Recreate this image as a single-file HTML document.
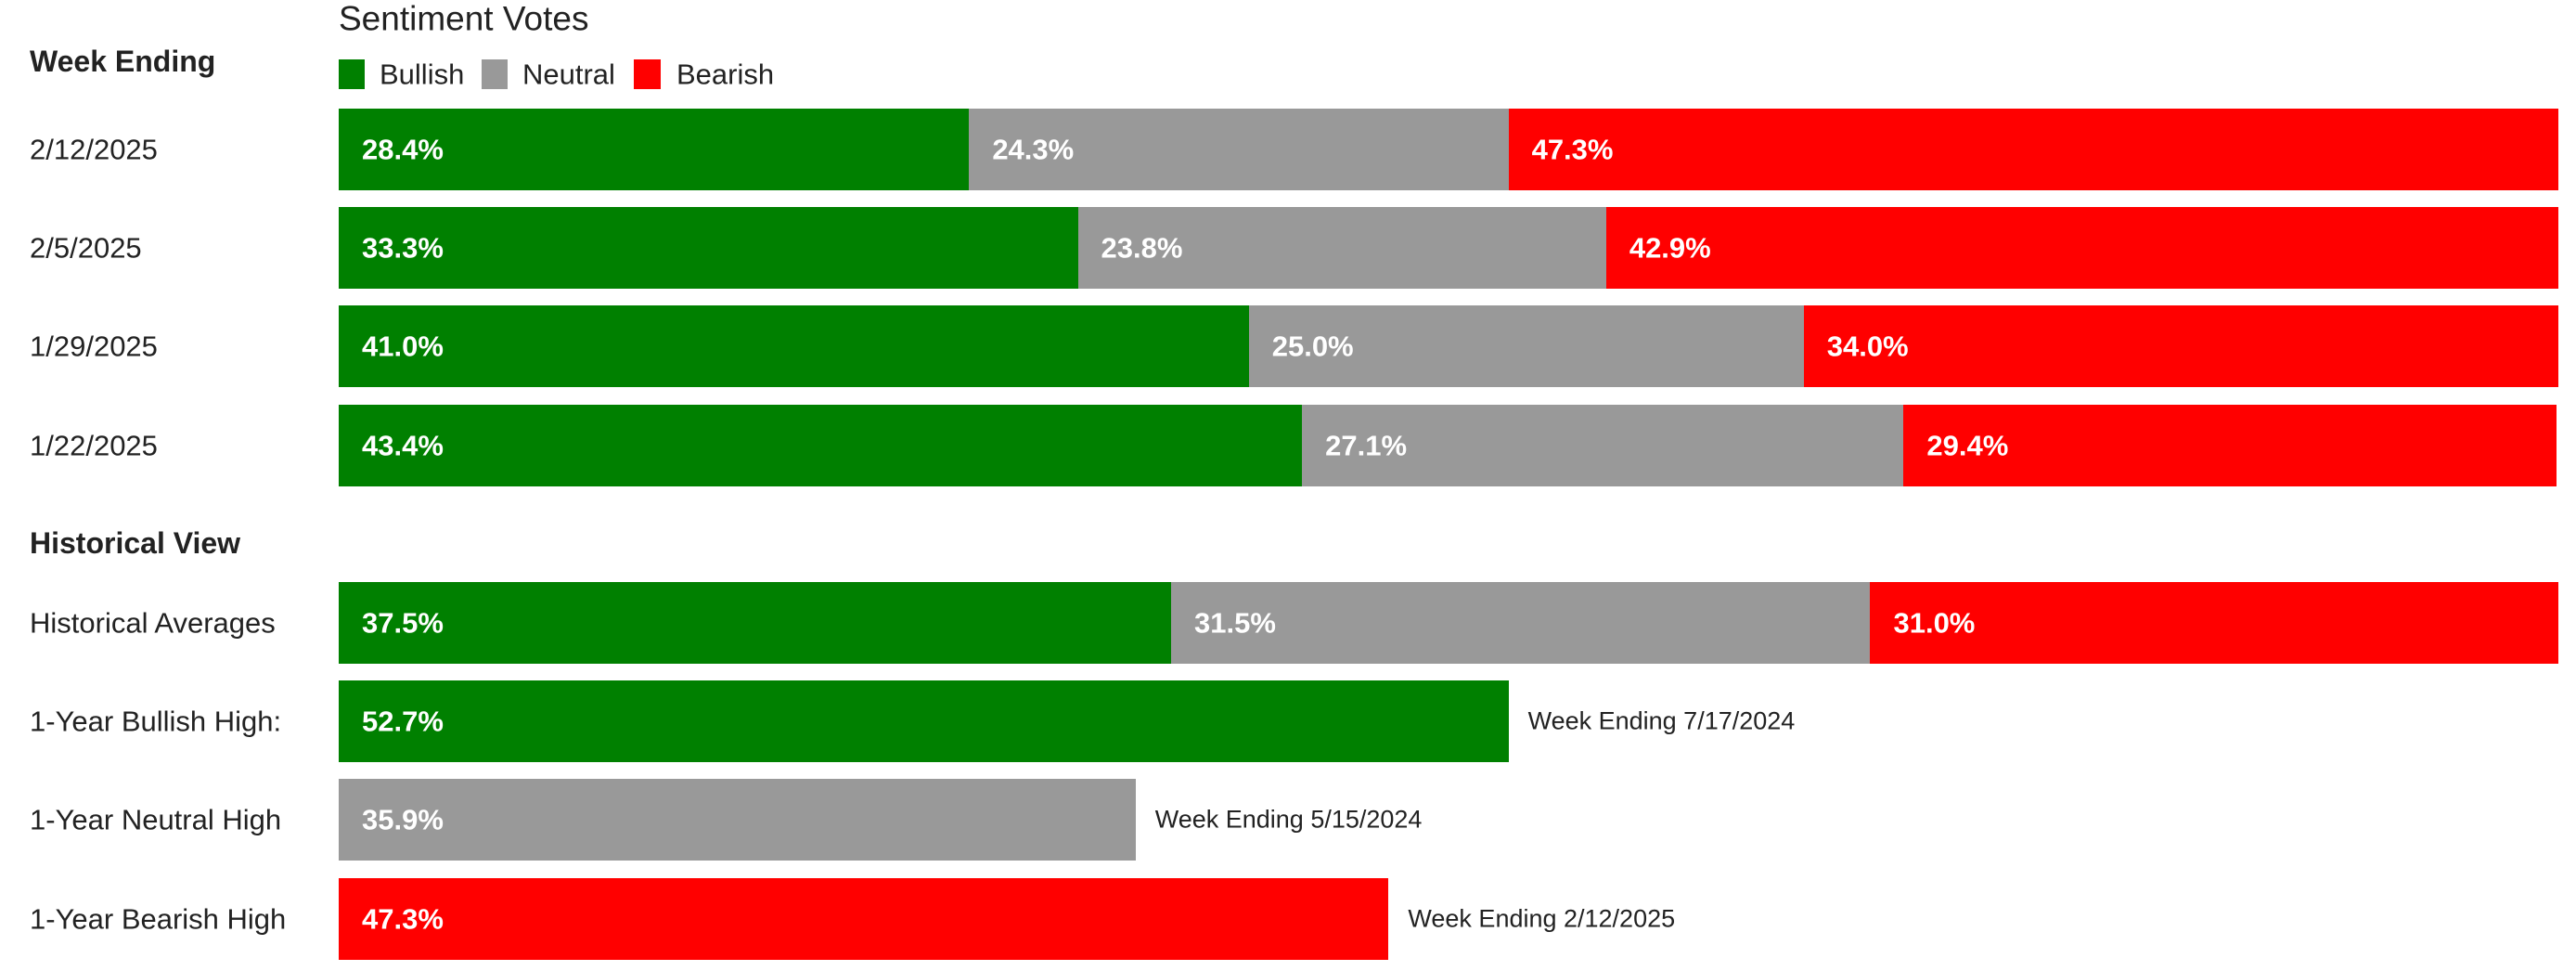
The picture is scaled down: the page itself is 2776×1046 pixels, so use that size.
<!DOCTYPE html>
<html><head><meta charset="utf-8"><style>
html,body{margin:0;padding:0;background:#fff;}
body{width:2776px;height:1046px;position:relative;overflow:hidden;font-family:"Liberation Sans",sans-serif;color:#222;}
.t{position:absolute;white-space:nowrap;line-height:1;transform:translateY(-50%);}
.bar{position:absolute;}
.v{position:absolute;color:#fff;font-weight:bold;font-size:31px;line-height:1;transform:translateY(-50%);white-space:nowrap;}
</style></head><body>
<div class="t" style="left:365px;top:20px;font-size:37px;">Sentiment Votes</div>
<div class="t" style="left:32px;top:66px;font-size:32px;font-weight:bold;">Week Ending</div>
<div>
<div class="bar" style="left:365px;top:64px;width:28px;height:32px;background:#008000"></div>
<div class="t" style="left:409px;top:80px;font-size:31px;">Bullish</div></div>
<div>
<div class="bar" style="left:519px;top:64px;width:28px;height:32px;background:#999999"></div>
<div class="t" style="left:563px;top:80px;font-size:31px;">Neutral</div></div>
<div>
<div class="bar" style="left:683px;top:64px;width:29px;height:32px;background:#ff0000"></div>
<div class="t" style="left:729px;top:80px;font-size:31px;">Bearish</div></div>
<div class="t" style="left:32px;top:585px;font-size:32px;font-weight:bold;">Historical View</div>
<div id="chart"></div>
<script>
const weeks = ["2/12/2025","2/5/2025","1/29/2025","1/22/2025"];
const bullish = [28.4,33.3,41.0,43.4];
const neutral = [24.3,23.8,25.0,27.1];
const bearish = [47.3,42.9,34.0,29.4];
const histLabel = "Historical Averages";
const histValues = [37.5,31.5,31.0];
const highLabels = ["1-Year Bullish High:","1-Year Neutral High","1-Year Bearish High"];
const highValues = [52.7,35.9,47.3];
const highWeeks = ["Week Ending 7/17/2024","Week Ending 5/15/2024","Week Ending 2/12/2025"];
const colors = ["#008000","#999999","#ff0000"];
const X0 = 365, W = 2392, BH = 88;
function xs(p){ return p/100*W; }
const root = document.getElementById('chart');
function label(text, y){
  const d = document.createElement('div');
  d.className='t'; d.style.left='32px'; d.style.top=(y+BH/2)+'px'; d.style.fontSize='31px';
  d.textContent=text;
  
  
  root.appendChild(d);
}
function stacked(vals, y, cols){
  let acc=0;
  vals.forEach((v,i)=>{
    const b=document.createElement('div');
    b.className='bar';
    b.style.left=(X0+xs(acc))+'px'; b.style.top=y+'px';
    b.style.width=xs(v)+'px'; b.style.height=BH+'px'; b.style.background=cols[i];
    
    
    root.appendChild(b);
    const t=document.createElement('div');
    t.className='v'; t.style.left=(X0+xs(acc)+25)+'px'; t.style.top=(y+BH/2)+'px';
    t.textContent=v.toFixed(1)+'%';
    
    
    root.appendChild(t);
    acc+=v;
  });
}
const rowY=[117,223,329,436];
weeks.forEach((w,i)=>{ label(w,rowY[i]); stacked([bullish[i],neutral[i],bearish[i]],rowY[i],colors); });
label(histLabel,627);
stacked(histValues,627,colors);
const hY=[733,839,946];
highValues.forEach((v,i)=>{
  label(highLabels[i],hY[i]);
  stacked([v],hY[i],[colors[i]]);
  const a=document.createElement('div');
  a.className='t'; a.style.left=(X0+xs(v)+21)+'px'; a.style.top=(hY[i]+BH/2)+'px'; a.style.fontSize='27px';
  a.textContent=highWeeks[i];
  
  
  root.appendChild(a);
});
</script>
</body></html>
